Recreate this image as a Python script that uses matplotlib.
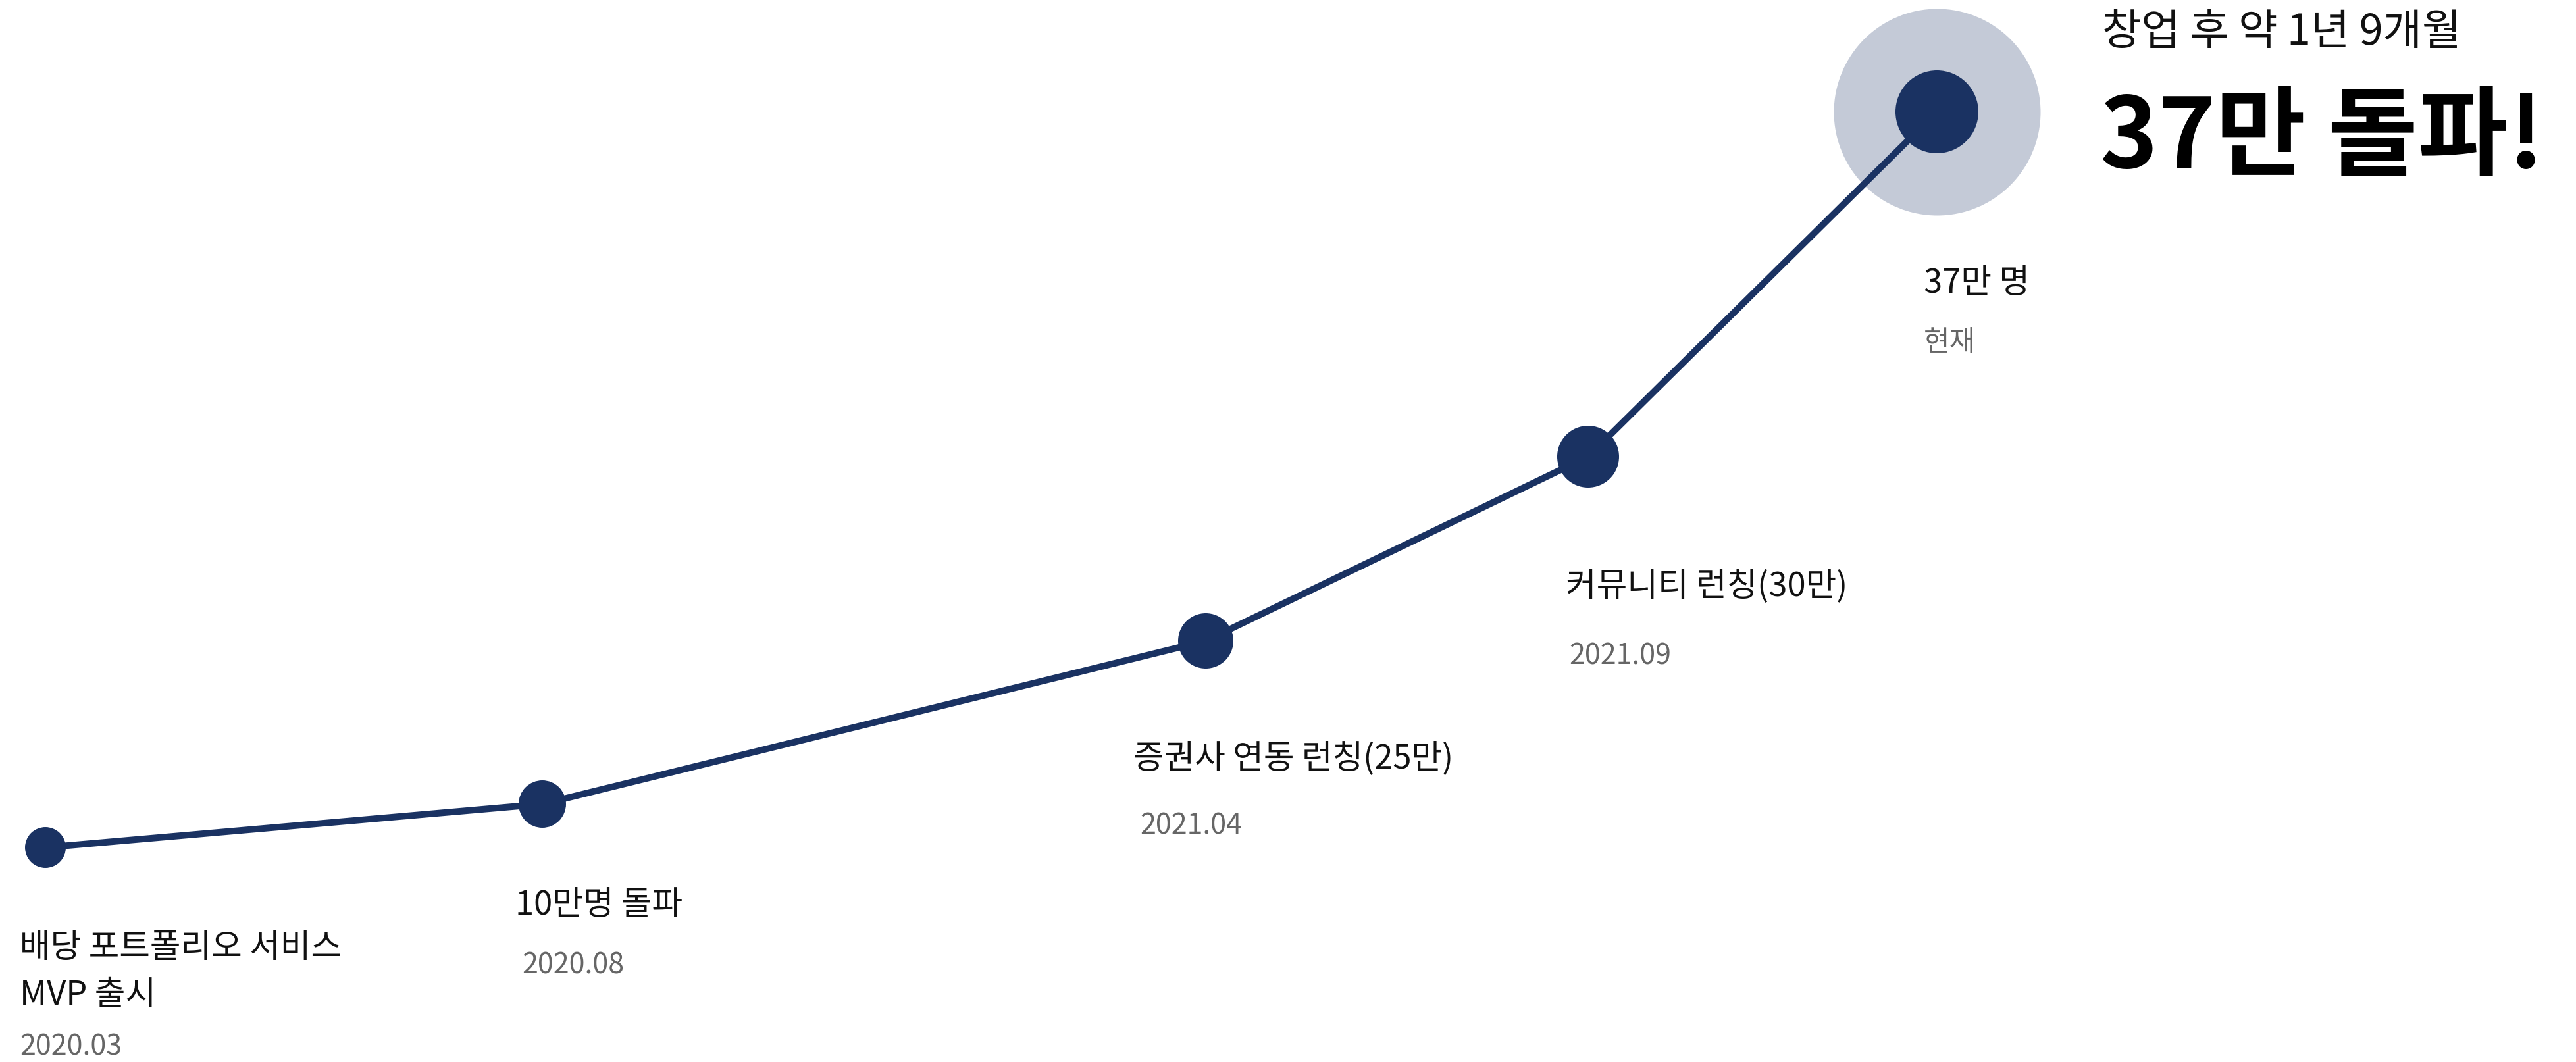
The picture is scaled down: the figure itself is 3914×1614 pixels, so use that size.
import matplotlib.pyplot as plt

plt.rcParams['font.family'] = ['Noto Sans CJK KR', 'DejaVu Sans']

# 마일스톤 데이터
dates = ['2020.03', '2020.08', '2021.04', '2021.09', '현재']
labels = ['배당 포트폴리오 서비스\nMVP 출시', '10만명 돌파', '증권사 연동 런칭(25만)',
          '커뮤니티 런칭(30만)', '37만 명']
x_vals = [69, 824, 1832, 2413, 2943]
y_vals = [1288, 1222, 974, 694, 170]

navy = '#1a3262'
W, H = 3914, 1614

fig = plt.figure(figsize=(W / 100, H / 100), dpi=100)
ax = fig.add_axes([0, 0, 1, 1])
ax.set_xlim(0, W)
ax.set_ylim(H, 0)
ax.axis('off')

# 선
ax.plot(x_vals, y_vals, color=navy, linewidth=7.2, solid_capstyle='round', zorder=2)

# 마지막 점의 후광
ax.scatter(x_vals[-1:], y_vals[-1:], s=(2 * 157 * 0.72) ** 2, color='#c4cad7',
           linewidths=0, zorder=1)

# 점 (뒤로 갈수록 커짐)
radii = [31, 36, 42, 47, 63]
ax.scatter(x_vals, y_vals, s=[(2 * r * 0.72) ** 2 for r in radii], color=navy,
           linewidths=0, zorder=3)

# 라벨
label_pos = [(30, 1477), (783, 1376), (1722, 1153), (2379, 891), (2923, 431)]
date_pos = [(30, 1591), (793, 1467), (1732, 1255), (2384, 997), (2923, 521)]
for (lx, ly), (dx, dy), lab, d in zip(label_pos, date_pos, labels, dates):
    ax.text(lx, ly, lab, fontsize=36.5, color='#111111', ha='left', va='center',
            linespacing=1.5, fontweight='medium')
    ax.text(dx, dy, d, fontsize=31, color='#666666', ha='left', va='center',
            fontweight='light')

# 제목
ax.text(3194, 50, '창업 후 약 1년 9개월', fontsize=46.5, color='#111111',
        ha='left', va='center', fontweight='light')
ax.text(3191, 212, '37만 돌파!', fontsize=107, color='#000000',
        ha='left', va='center', fontweight='black')

fig.savefig('out.png', dpi=100, facecolor='white')
